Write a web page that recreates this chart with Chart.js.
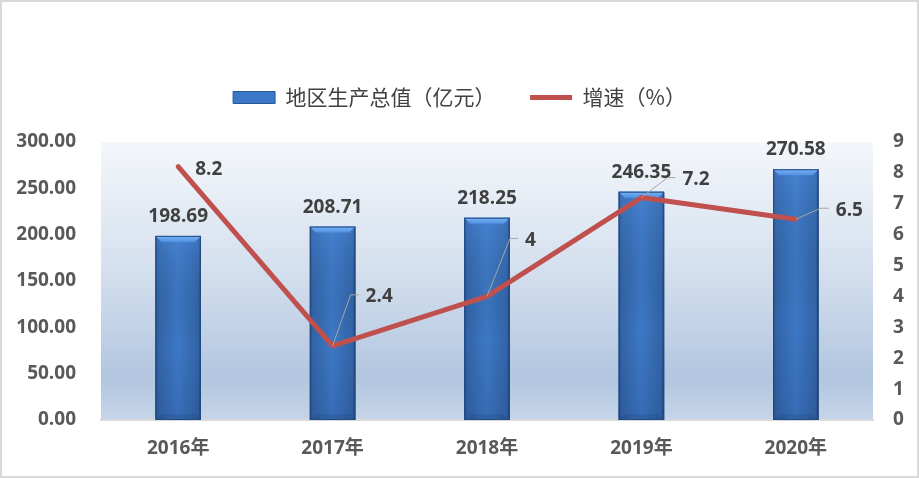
<!DOCTYPE html>
<html>
<head>
<meta charset="utf-8">
<script src="https://cdn.jsdelivr.net/npm/chart.js@4/dist/chart.umd.min.js"></script>
<style>
  html, body { margin: 0; padding: 0; background: #ffffff; }
  #wrap { width: 919px; height: 478px; position: relative; }
</style>
</head>
<body>
<div id="wrap"><canvas id="c"></canvas></div>
<script>
// ---- data ----
const categories = ['2016年', '2017年', '2018年', '2019年', '2020年'];
const gdpValues = [198.69, 208.71, 218.25, 246.35, 270.58];
const growthValues = [8.2, 2.4, 4, 7.2, 6.5];
const gdpLabel = '地区生产总值（亿元）';
const growthLabel = '增速（%）';
const leftTicks = [0, 50, 100, 150, 200, 250, 300];
const rightTicks = [0, 1, 2, 3, 4, 5, 6, 7, 8, 9];

const FONT = "'Open Sans','Noto Sans CJK SC',sans-serif";
const CJK = "'Noto Sans CJK SC',sans-serif";

// label placement offsets for the line labels (dx to text left, dy to text middle, leader)
const lineLabelOffsets = [
  { dx: 17, dy: 2, leader: false },
  { dx: 33, dy: -50, leader: true },
  { dx: 38, dy: -57, leader: true },
  { dx: 41, dy: -19, leader: true },
  { dx: 40, dy: -10, leader: true }
];

const decorPlugin = {
  id: 'decor',
  beforeLayout(chart) {
    const lg = chart.legend;
    if (lg && !lg._extraGap) {
      const f = lg.fit;
      lg.fit = function () { f.call(this); this.height += 24; };
      lg._extraGap = true;
    }
  },
  beforeDraw(chart) {
    const { ctx, chartArea: a, width, height } = chart;
    ctx.save();
    ctx.fillStyle = '#ffffff';
    ctx.fillRect(0, 0, width, height);
    const g = ctx.createLinearGradient(0, a.top, 0, a.bottom);
    g.addColorStop(0, '#f4f7fb');
    g.addColorStop(0.45, '#d5e0ee');
    g.addColorStop(0.85, '#b2c6e0');
    g.addColorStop(1, '#c6d5e9');
    ctx.fillStyle = g;
    ctx.fillRect(a.left, a.top, a.right - a.left, a.bottom - a.top);
    ctx.restore();
  },
  afterDatasetDraw(chart, args) {
    if (args.index !== 0) return;
    const { ctx } = chart;
    const meta = chart.getDatasetMeta(0);
    ctx.save();
    meta.data.forEach((bar) => {
      const w = bar.width;
      const l = bar.x - w / 2, r = bar.x + w / 2;
      const t = bar.y, b = bar.base;
      const hg = ctx.createLinearGradient(l, 0, r, 0);
      hg.addColorStop(0, '#264f86');
      hg.addColorStop(0.06, '#3468ae');
      hg.addColorStop(0.5, '#3f7ccb');
      hg.addColorStop(0.94, '#3468ae');
      hg.addColorStop(1, '#1f4272');
      ctx.fillStyle = hg;
      ctx.fillRect(l, t, w, b - t);
      const vg = ctx.createLinearGradient(0, t, 0, b);
      vg.addColorStop(0, 'rgba(90,150,230,0.25)');
      vg.addColorStop(0.6, 'rgba(0,0,0,0.03)');
      vg.addColorStop(1, 'rgba(0,0,30,0.12)');
      ctx.fillStyle = vg;
      ctx.fillRect(l, t, w, b - t);
      // top bevel
      ctx.beginPath();
      ctx.moveTo(l, t);
      ctx.lineTo(r, t);
      ctx.lineTo(r - 6, t + 6);
      ctx.lineTo(l + 6, t + 6);
      ctx.closePath();
      const bg = ctx.createLinearGradient(0, t, 0, t + 6);
      bg.addColorStop(0, '#7ab3f5');
      bg.addColorStop(1, '#4f90e0');
      ctx.fillStyle = bg;
      ctx.fill();
      // bottom bevel
      ctx.beginPath();
      ctx.moveTo(l, b);
      ctx.lineTo(r, b);
      ctx.lineTo(r - 6, b - 6);
      ctx.lineTo(l + 6, b - 6);
      ctx.closePath();
      ctx.fillStyle = 'rgba(20,50,100,0.15)';
      ctx.fill();
      ctx.strokeStyle = '#214a80';
      ctx.lineWidth = 1;
      ctx.strokeRect(l + 0.5, t + 0.5, w - 1, b - t - 1);
    });
    ctx.restore();
  },
  afterDatasetsDraw(chart) {
    const { ctx } = chart;
    ctx.save();
    ctx.font = 'bold 19px ' + FONT;
    ctx.fillStyle = '#404040';
    // bar labels
    const barMeta = chart.getDatasetMeta(0);
    ctx.textAlign = 'center';
    ctx.textBaseline = 'alphabetic';
    barMeta.data.forEach((bar, i) => {
      ctx.fillText(gdpValues[i].toFixed(2), bar.x, bar.y - 14);
    });
    // line labels
    const lineMeta = chart.getDatasetMeta(1);
    ctx.textAlign = 'left';
    ctx.textBaseline = 'middle';
    lineMeta.data.forEach((pt, i) => {
      const o = lineLabelOffsets[i];
      const tx = pt.x + o.dx, ty = pt.y + o.dy;
      if (o.leader) {
        ctx.strokeStyle = '#a6a6a6';
        ctx.lineWidth = 1;
        ctx.beginPath();
        ctx.moveTo(pt.x, pt.y);
        ctx.lineTo(tx - 15, ty - 1);
        ctx.lineTo(tx - 7, ty - 1);
        ctx.stroke();
      }
      ctx.fillStyle = '#404040';
      ctx.fillText(String(growthValues[i]), tx, ty + 1);
    });
    ctx.restore();
  },
  afterDraw(chart) {
    const { ctx, width, height } = chart;
    ctx.save();
    ctx.strokeStyle = '#d9d9d9';
    ctx.lineWidth = 2;
    ctx.strokeRect(1, 1, width - 2, height - 2);
    ctx.restore();
  }
};

new Chart(document.getElementById('c'), {
  data: {
    labels: categories,
    datasets: [
      {
        type: 'bar',
        label: gdpLabel,
        data: gdpValues,
        yAxisID: 'y',
        backgroundColor: '#3b78c8',
        borderWidth: 0,
        categoryPercentage: 1,
        barPercentage: 0.295,
        order: 2,
        pointStyle: 'rect'
      },
      {
        type: 'line',
        label: growthLabel,
        data: growthValues,
        yAxisID: 'y1',
        borderColor: '#c0504d',
        backgroundColor: '#c0504d',
        borderWidth: 5,
        borderCapStyle: 'round',
        borderJoinStyle: 'round',
        pointRadius: 0,
        pointHoverRadius: 0,
        tension: 0,
        order: 1,
        pointStyle: 'line'
      }
    ]
  },
  options: {
    responsive: true,
    maintainAspectRatio: false,
    animation: false,
    devicePixelRatio: 1,
    layout: { padding: { top: 63, left: 0, right: 0, bottom: 0 } },
    plugins: {
      tooltip: { enabled: false },
      legend: {
        display: true,
        position: 'top',
        labels: {
          usePointStyle: true,
          pointStyleWidth: 42,
          boxHeight: 12,
          padding: 24,
          color: '#404040',
          font: { family: CJK, size: 21 },
          generateLabels(chart) {
            return [
              { text: gdpLabel + '\u3000', fillStyle: '#3b78c8', strokeStyle: '#2a5a96', lineWidth: 1, pointStyle: 'rect', datasetIndex: 0, hidden: false, fontColor: '#404040' },
              { text: growthLabel, fillStyle: '#c0504d', strokeStyle: '#c0504d', lineWidth: 5, pointStyle: 'line', datasetIndex: 1, hidden: false, fontColor: '#404040' }
            ];
          }
        }
      }
    },
    scales: {
      x: {
        grid: { display: false, drawTicks: false },
        border: { display: true, color: '#d9d9d9', width: 2 },
        ticks: { color: '#595959', font: { family: FONT, size: 19, weight: 'bold' }, padding: 17 },
        afterFit(s) { s.height = 58; }
      },
      y: {
        position: 'left',
        min: 0, max: 300,
        afterBuildTicks(s) { s.ticks = leftTicks.map(v => ({ value: v })); },
        grid: { display: false, drawTicks: false },
        border: { display: false },
        ticks: { color: '#595959', font: { family: FONT, size: 19, weight: 'bold' }, padding: 25, callback: v => Number(v).toFixed(2) },
        afterFit(s) { s.width = 101; }
      },
      y1: {
        position: 'right',
        min: 0, max: 9,
        afterBuildTicks(s) { s.ticks = rightTicks.map(v => ({ value: v })); },
        grid: { display: false, drawTicks: false },
        border: { display: false },
        ticks: { color: '#595959', font: { family: FONT, size: 19, weight: 'bold' }, padding: 20, callback: v => String(v) },
        afterFit(s) { s.width = 46; }
      }
    }
  },
  plugins: [decorPlugin]
});
</script>
</body>
</html>
